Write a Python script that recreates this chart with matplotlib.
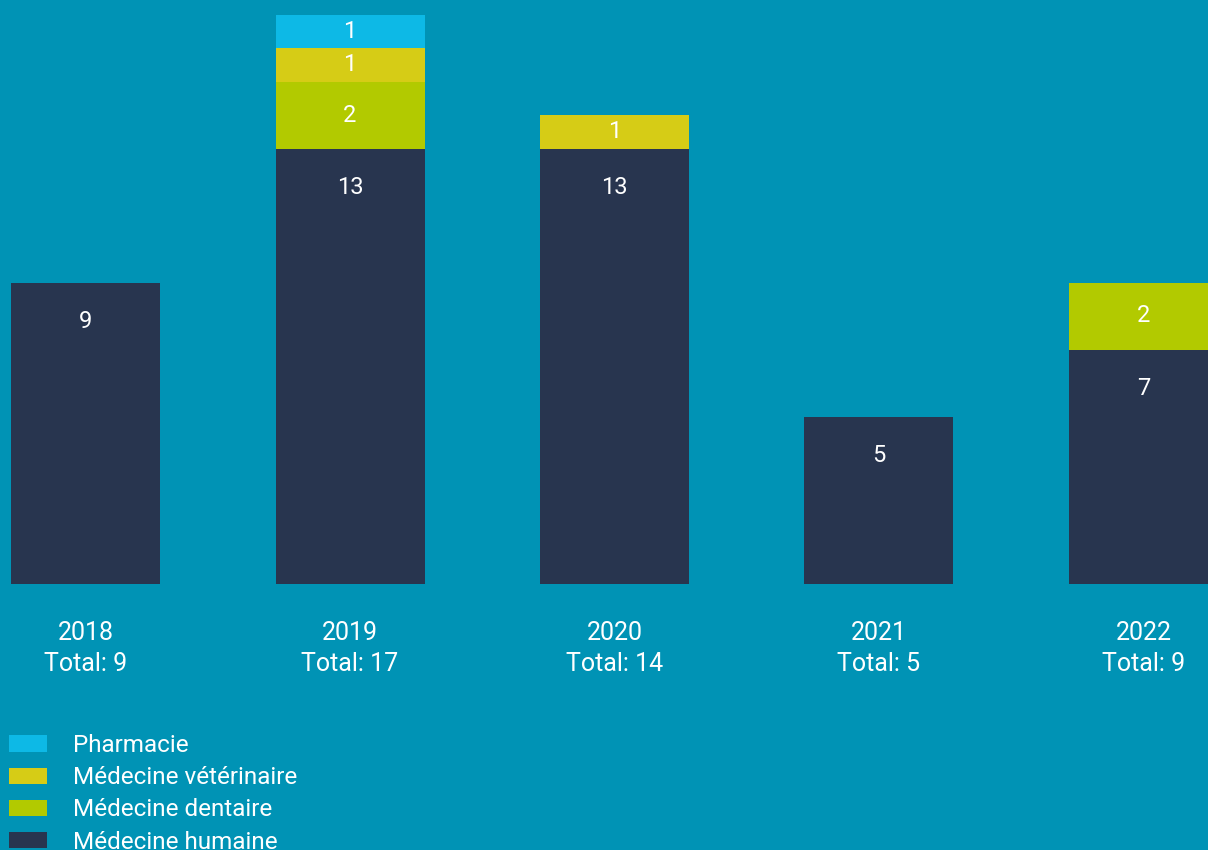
import matplotlib

matplotlib.use("Agg")

import matplotlib.pyplot as plt
from matplotlib.patches import Patch
import numpy as np

years = ["2018", "2019", "2020", "2021", "2022"]
humaine = [9, 13, 13, 5, 7]
dentaire = [0, 2, 0, 0, 2]
veterinaire = [0, 1, 1, 0, 0]
pharmacie = [0, 1, 0, 0, 0]

series = [
    ("Médecine humaine", humaine, "#28354f"),
    ("Médecine dentaire", dentaire, "#b2ca00"),
    ("Médecine vétérinaire", veterinaire, "#d6cc16"),
    ("Pharmacie", pharmacie, "#0db9e6"),
]

bg = "#0093b5"
plt.rcParams["font.family"] = ["Roboto", "DejaVu Sans"]

W, H = 1208, 850
fig = plt.figure(figsize=(W / 100, H / 100), dpi=100, facecolor=bg)
base_px = 584
ax = fig.add_axes([0, (H - base_px) / H, 1, base_px / H])
ax.set_facecolor(bg)

unit = 33.5
spacing = 264.5
x0 = 85.5
ax.set_xlim(-x0 / spacing, (W - x0) / spacing)
ax.set_ylim(0, base_px / unit)

x = np.arange(len(years))
bottom = np.zeros(len(years))
handles = []
for name, vals, color in series:
    vals = np.array(vals, dtype=float)
    ax.bar(x, vals, bottom=bottom, width=149 / spacing, color=color, linewidth=0)
    for xi, b, v in zip(x, bottom, vals):
        if v > 0:
            top = b + v
            ypos = top - min(v / 2, 1.17)
            ax.text(xi, ypos, f"{int(v)}", ha="center", va="center",
                    color="white", fontsize=17)
    bottom += vals
    handles.append(Patch(facecolor=color, label=name))

totals = bottom.astype(int)
ax.set_xticks(x)
ax.set_xticklabels([f"{y}\nTotal: {t}" for y, t in zip(years, totals)],
                   color="white", fontsize=18, linespacing=1.35)
ax.tick_params(axis="x", length=0, pad=27)
ax.set_yticks([])
for s in ax.spines.values():
    s.set_visible(False)

fig.legend(handles=handles[::-1], loc="upper left",
           bbox_to_anchor=(9 / W, (H - 734) / H), frameon=False,
           fontsize=17.5, labelcolor="white", handlelength=1.56,
           handleheight=0.66, handletextpad=1.07, labelspacing=0.38,
           borderaxespad=0, borderpad=0.0)

fig.savefig("out.png", dpi=100, facecolor=bg)
